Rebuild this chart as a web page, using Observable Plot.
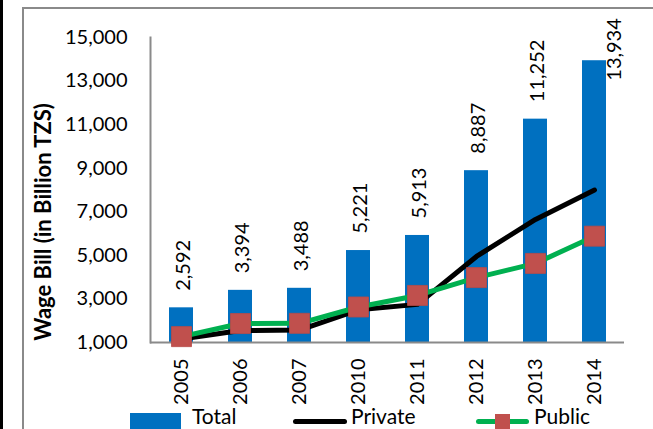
<!DOCTYPE html>
<html>
<head>
<meta charset="utf-8">
<script src="https://cdn.jsdelivr.net/npm/d3@7"></script>
<script src="https://cdn.jsdelivr.net/npm/@observablehq/plot@0.6"></script>
<style>
  html, body { margin: 0; padding: 0; background: #fff; }
  body { width: 653px; height: 429px; overflow: hidden; position: relative; font-family: Lato, "Open Sans", sans-serif; }
  #blackline { position: absolute; left: 0; top: 0; width: 3px; height: 429px; background: #000; }
  #frame { position: absolute; left: 22px; top: 7px; width: 660px; height: 460px; border: 2px solid #8a8a8a; box-sizing: border-box; }
  #chart { position: absolute; left: 0; top: 0; }
  #legend { position: absolute; left: 0; top: 405px; width: 653px; height: 24px; }
  .item { position: absolute; top: 0; height: 24px; }
  .sw { position: absolute; }
  .lbl { position: absolute; top: 2px; font-size: 21px; line-height: 18px; color: #000; white-space: nowrap; }
</style>
</head>
<body>
<div id="blackline"></div>
<div id="frame"></div>
<div id="chart"></div>
<div id="legend"></div>
<script>
const years = ["2005", "2006", "2007", "2010", "2011", "2012", "2013", "2014"];
const total = [2592, 3394, 3488, 5221, 5913, 8887, 11252, 13934];
const privateBill = [1160, 1550, 1570, 2500, 2750, 4950, 6650, 8000];
const publicBill = [1270, 1870, 1880, 2630, 3160, 3980, 4630, 5880];
const yTicks = [1000, 3000, 5000, 7000, 9000, 11000, 13000, 15000];
const yTitle = ["Wage Bill (in Billion TZS)"];
const seriesNames = ["Total", "Private", "Public"];

const colors = { Total: "#0070C0", Private: "#000000", Public: "#00B050", marker: "#C0504D" };

const rows = years.map((y, i) => ({ year: y, total: total[i], priv: privateBill[i], pub: publicBill[i] }));
const fmt = d3.format(",");
const lastYear = years[years.length - 1];

const chart = Plot.plot({
  width: 653,
  height: 405,
  marginLeft: 150,
  marginRight: 29,
  marginTop: 37,
  marginBottom: 63,
  style: { fontFamily: "Lato, 'Open Sans', sans-serif", fontSize: "20px", background: "transparent", color: "#000" },
  x: { domain: years, paddingInner: 0.6, paddingOuter: 0.3 },
  y: { domain: [yTicks[0], yTicks[yTicks.length - 1]] },
  marks: [
    Plot.barY(rows, { x: "year", y1: yTicks[0], y2: "total", fill: colors.Total }),
    Plot.ruleY([yTicks[0]], { stroke: "#8a8a8a", strokeWidth: 2 }),
    Plot.frame({ anchor: "left", stroke: "#8a8a8a", strokeWidth: 2 }),
    Plot.axisY({ ticks: yTicks, tickSize: 0, tickPadding: 23, tickFormat: fmt, label: null, fontSize: 20 }),
    Plot.axisX({ tickSize: 0, tickPadding: 16, tickRotate: -90, label: null, fontSize: 20 }),
    Plot.text(yTitle, { frameAnchor: "left", textAnchor: "middle", rotate: -90, dx: -107, dy: 32, fontWeight: "bold", fontSize: 22 }),
    Plot.text(rows.filter(d => d.year !== lastYear), { x: "year", y: "total", text: d => fmt(d.total), rotate: -90, textAnchor: "start", dx: 2, dy: -17, fontSize: 20 }),
    Plot.text(rows.filter(d => d.year === lastYear), { x: "year", y: "total", text: d => fmt(d.total), rotate: -90, textAnchor: "start", dx: 20, dy: 20, fontSize: 20 }),
    Plot.line(rows, { x: "year", y: "priv", stroke: colors.Private, strokeWidth: 5, strokeLinejoin: "round", strokeLinecap: "round" }),
    Plot.line(rows, { x: "year", y: "pub", stroke: colors.Public, strokeWidth: 5, strokeLinejoin: "round", strokeLinecap: "round" }),
    Plot.dot(rows, { x: "year", y: "pub", symbol: "square", r: 11.3, fill: colors.marker, stroke: "#b84a47", strokeWidth: 0.8 })
  ]
});
document.getElementById("chart").appendChild(chart);

// legend (HTML, below the SVG)
const legend = document.getElementById("legend");
const itemLeft = { Total: 130, Private: 293, Public: 476 };
seriesNames.forEach(name => {
  const it = document.createElement("div");
  it.className = "item";
  it.style.left = itemLeft[name] + "px";
  let html = "";
  if (name === "Total") {
    html += `<div class="sw" style="left:0;top:8px;width:51px;height:16px;background:${colors.Total}"></div>`;
    html += `<div class="lbl" style="left:62px">${name}</div>`;
  } else if (name === "Private") {
    html += `<div class="sw" style="left:0;top:13.5px;width:54px;height:5px;border-radius:3px;background:${colors.Private}"></div>`;
    html += `<div class="lbl" style="left:58px">${name}</div>`;
  } else {
    html += `<div class="sw" style="left:0;top:13.5px;width:53px;height:5px;border-radius:3px;background:${colors.Public}"></div>`;
    html += `<div class="sw" style="left:19px;top:8.5px;width:15px;height:15.5px;background:${colors.marker}"></div>`;
    html += `<div class="lbl" style="left:58px">${name}</div>`;
  }
  it.innerHTML = html;
  legend.appendChild(it);
});
</script>
</body>
</html>
